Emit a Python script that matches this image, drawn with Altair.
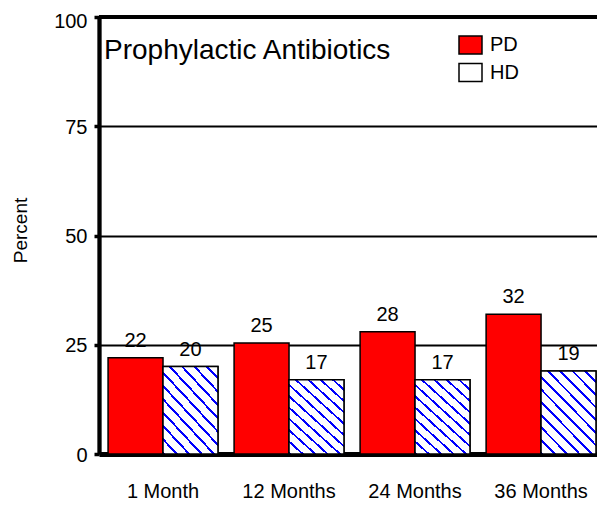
import altair as alt
import pandas as pd

# ---- data ----
categories = ["1 Month", "12 Months", "24 Months", "36 Months"]
pd_values = [22, 25.4, 28, 32]
hd_values = [20, 17, 17, 19]
series = ["PD", "HD"]
series_colors = ["#ff0000", "#ffffff"]
y_ticks = [0, 25, 50, 75, 100]
chart_title = "Prophylactic Antibiotics"
y_title = "Percent"

rows = []
for c, p, h in zip(categories, pd_values, hd_values):
    rows.append({"period": c, "series": "PD", "value": p})
    rows.append({"period": c, "series": "HD", "value": h})
df = pd.DataFrame(rows)
top_df = pd.DataFrame({"v": [y_ticks[-1]]})

FONT = "Liberation Sans"

# diagonal hatch for HD bars, built as a striped linear gradient
n_stripes = 11
line_frac = 0.22
stops = []
for i in range(n_stripes):
    a = i / n_stripes
    b = (i + line_frac) / n_stripes
    e = (i + 1) / n_stripes
    stops += [
        alt.GradientStop(color="#0000ff", offset=a),
        alt.GradientStop(color="#0000ff", offset=b),
        alt.GradientStop(color="#ffffff", offset=b),
        alt.GradientStop(color="#ffffff", offset=e),
    ]
hatch = alt.LinearGradient(gradient="linear", stops=stops,
                           x1=0, y1=1, x2=0.777, y2=-0.151)

y_scale = alt.Scale(domain=[y_ticks[0], y_ticks[-1]], nice=False)

x_enc = alt.X(
    "period:N", sort=categories,
    scale=alt.Scale(paddingInner=0.128, paddingOuter=0.04, align=0.9),
    axis=alt.Axis(title=None, labelAngle=0, ticks=False, tickSize=0,
                  domainWidth=5, domainColor="black",
                  labelFontSize=20, labelFont=FONT, labelColor="black",
                  labelBaseline="alphabetic", labelPadding=43, grid=False),
)
xo_enc = alt.XOffset("series:N", sort=series,
                     scale=alt.Scale(domain=series, paddingInner=0, paddingOuter=0))
y_enc = alt.Y(
    "value:Q", scale=y_scale,
    axis=alt.Axis(values=y_ticks, title=y_title, titleFontSize=19, titleFont=FONT,
                  titleFontWeight="normal", titleColor="black", titlePadding=23,
                  titleY=213,
                  grid=True, gridColor="black", gridWidth=2,
                  domainWidth=4.3, domainColor="black",
                  tickWidth=3.5, tickSize=5, tickColor="black",
                  labelFontSize=20, labelFont=FONT, labelColor="black", labelPadding=7,
                  labelOffset={"condition": {"test": f"datum.value == {y_ticks[-1]}",
                                             "value": 4}, "value": 1}),
)

base = alt.Chart(df).encode(x=x_enc, xOffset=xo_enc, y=y_enc)

bars = base.mark_bar(stroke="black", strokeWidth=1.5).encode(
    color=alt.Color(
        "series:N",
        scale=alt.Scale(domain=series, range=series_colors),
        legend=alt.Legend(
            title=None, orient="none", legendX=359, legendY=15.5, padding=0,
            symbolType="M-1,-0.78H1V0.78H-1Z", symbolSize=529,
            symbolStrokeColor="black", symbolStrokeWidth=1.5, symbolOpacity=1,
            labelFontSize=20, labelFont=FONT, labelColor="black",
            labelOffset=7, rowPadding=2.5,
        ),
    )
)

hatched = base.transform_filter(alt.datum.series == "HD").mark_bar(
    fill=hatch, stroke="black", strokeWidth=1.5
)

labels = base.mark_text(baseline="alphabetic", dy=-11, fontSize=20, font=FONT,
                        color="black").encode(
    text=alt.Text("value:Q", format=".0f")
)

top_rule = alt.Chart(top_df).mark_rule(color="black", strokeWidth=4).encode(
    y=alt.Y("v:Q", scale=y_scale)
)

chart = alt.layer(bars, hatched, labels, top_rule).properties(
    width=498, height=437,
    title=alt.TitleParams(chart_title, anchor="start", frame="group", fontSize=28,
                          font=FONT, fontWeight="normal", color="black",
                          dx=5, dy=58),
    autosize=alt.AutoSizeParams(type="none"),
    padding={"left": 91, "top": 9, "right": 0, "bottom": 47},
).configure_view(stroke=None)

chart.save("out.html", embed_options={"renderer": "svg", "actions": False})
